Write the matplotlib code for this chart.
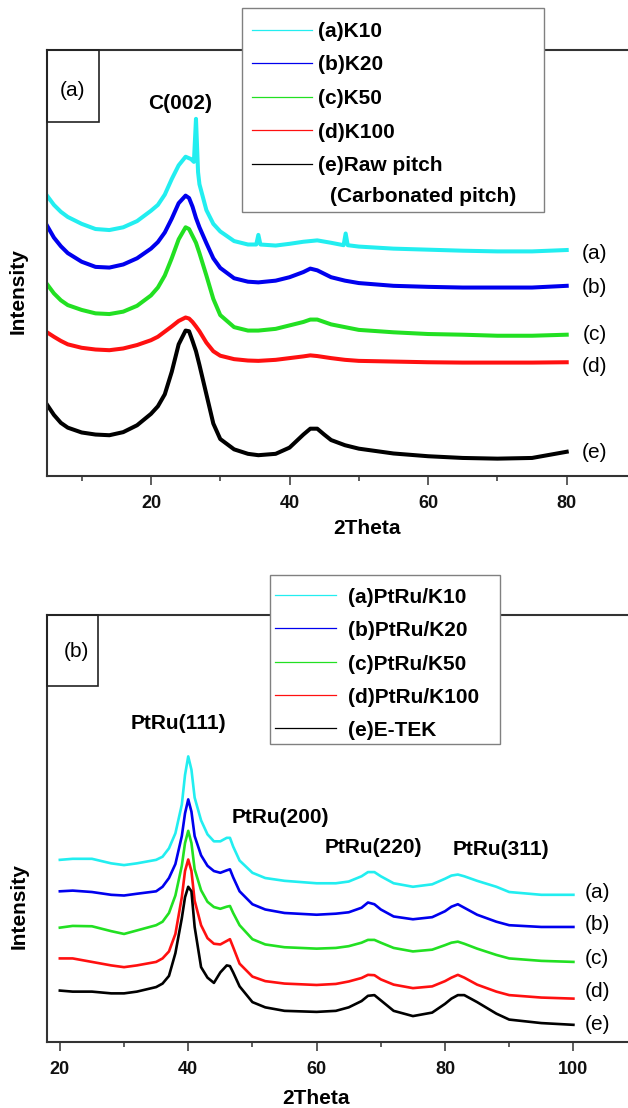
import matplotlib
matplotlib.use("Agg")
import matplotlib.pyplot as plt
from matplotlib.patches import Rectangle
from matplotlib.lines import Line2D

plt.rcParams['font.family'] = ['Liberation Sans', 'DejaVu Sans']

W, H, DPI = 628, 1108, 100

# ---------------- panel (a): carbonised pitch supports ----------------
two_theta_a = [5, 6, 7, 8, 10, 12, 14, 16, 18, 20,
               21, 22, 23, 24, 25, 25.5, 26, 26.5, 27, 28,
               29, 30, 32, 34, 35.5, 38, 40, 42, 43, 44,
               45, 46, 48, 50, 55, 60, 65, 70, 75, 80]
two_theta_k10 = [5, 6, 7, 8, 10, 12, 14, 16, 18, 20,
                 21, 22, 23, 24, 25, 25.8, 26.2, 26.5, 26.8, 27,
                 28, 29, 30, 32, 34, 35.2, 35.5, 35.8, 38, 40,
                 42, 44, 46, 47.8, 48.1, 48.4, 50, 55, 60, 65,
                 70, 75, 80]
k10 = [815, 788, 768, 753, 733, 718, 715, 723, 741, 771,
       788, 818, 863, 903, 928, 921, 913, 1038, 883, 848,
       773, 733, 711, 683, 673, 673, 701, 673, 670, 675,
       681, 685, 678, 671, 705, 671, 667, 661, 658, 655,
       653, 653, 657]
k20 = [728, 693, 668, 648, 623, 608, 606, 615, 633, 661,
       680, 708, 748, 793, 815, 808, 783, 750, 723, 677,
       633, 605, 575, 565, 563, 568, 578, 593, 603, 598,
       588, 578, 568, 561, 553, 550, 548, 548, 548, 553]
k50 = [558, 531, 511, 497, 483, 473, 471, 478, 495, 525,
       548, 583, 633, 688, 723, 718, 698, 678, 648, 583,
       515, 468, 433, 423, 423, 428, 438, 448, 455, 455,
       448, 441, 433, 425, 418, 413, 411, 408, 408, 411]
k100 = [418, 405, 393, 383, 373, 368, 366, 371, 381, 395,
        405, 420, 435, 451, 461, 458, 448, 435, 421, 388,
        363, 350, 340, 336, 335, 338, 343, 348, 351, 349,
        346, 343, 338, 335, 333, 331, 330, 330, 330, 331]
raw_pitch = [208, 178, 155, 141, 127, 121, 119, 128, 148, 181,
             203, 238, 303, 383, 423, 421, 393, 363, 323, 238,
             153, 108, 78, 65, 61, 65, 83, 121, 138, 138,
             121, 105, 90, 80, 66, 58, 53, 51, 53, 71]
labels_a = ["(a)K10", "(b)K20", "(c)K50", "(d)K100", "(e)Raw pitch"]
tags_y_a = [648, 548, 413, 318, 68]

# ---------------- panel (b): PtRu catalysts ----------------
two_theta_b = [20, 22, 25, 28, 30, 32, 35, 36, 37, 38,
               39, 39.5, 40, 40.5, 41, 42, 43, 44, 45, 46,
               46.5, 47, 48, 50, 52, 55, 60, 63, 65, 67,
               68, 69, 70, 72, 75, 78, 80, 81, 82, 83,
               85, 88, 90, 95, 100]
ptru_k10 = [522, 525, 525, 512, 507, 512, 522, 531, 555, 598,
            680, 765, 818, 780, 700, 635, 595, 575, 575, 585,
            585, 560, 520, 485, 470, 462, 455, 455, 460, 475,
            487, 487, 475, 455, 445, 452, 468, 477, 480, 475,
            462, 445, 430, 422, 422]
ptru_k20 = [432, 434, 430, 422, 420, 425, 432, 445, 470, 510,
            590, 655, 695, 660, 590, 535, 505, 490, 485, 492,
            495, 472, 432, 395, 380, 370, 365, 368, 372, 385,
            400, 395, 380, 360, 352, 358, 375, 388, 395, 385,
            365, 345, 335, 330, 330]
ptru_k50 = [328, 333, 332, 318, 310, 320, 335, 345, 370, 420,
            505, 570, 605, 570, 495, 435, 402, 387, 382, 388,
            390, 370, 335, 295, 280, 272, 268, 270, 275, 285,
            293, 293, 285, 270, 260, 265, 278, 285, 288, 282,
            268, 250, 240, 233, 230]
ptru_k100 = [240, 240, 230, 220, 215, 220, 230, 240, 260, 310,
             415, 490, 523, 490, 405, 335, 298, 282, 280, 290,
             295, 272, 225, 188, 175, 168, 164, 167, 174, 184,
             193, 192, 180, 165, 155, 160, 175, 185, 193, 185,
             165, 145, 135, 128, 125]
etek = [148, 145, 145, 140, 140, 145, 158, 168, 190, 255,
        355, 415, 445, 432, 330, 215, 185, 170, 200, 220,
        218, 200, 160, 115, 100, 90, 87, 90, 100, 118,
        133, 135, 120, 90, 75, 85, 110, 125, 135, 135,
        115, 82, 65, 55, 50]
labels_b = ["(a)PtRu/K10", "(b)PtRu/K20", "(c)PtRu/K50", "(d)PtRu/K100", "(e)E-TEK"]
tags_y_b = [430, 336, 241, 144, 50]

tags = ["(a)", "(b)", "(c)", "(d)", "(e)"]
colors = ["#22eef0", "#0000ee", "#22e022", "#ff1010", "#000000"]

SPINE = "#333333"
fig = plt.figure(figsize=(W / DPI, H / DPI), dpi=DPI)


def px_axes(left, top, right, bottom):
    return fig.add_axes([left / W, 1 - bottom / H, (right - left) / W, (bottom - top) / H])


def style(ax, xlim, ylim, major, minor):
    ax.set_xlim(*xlim)
    ax.set_ylim(*ylim)
    ax.set_xticks(major, [str(v) for v in major], fontweight='bold', fontsize=13)
    ax.set_xticks(minor, minor=True)
    ax.set_yticks([])
    ax.tick_params(axis='x', which='major', direction='out', length=6.5, width=1.1,
                   pad=7, color=SPINE, labelcolor='#111111')
    ax.tick_params(axis='x', which='minor', direction='out', length=3.6, width=1.1, color=SPINE)
    for s in ax.spines.values():
        s.set_linewidth(1.5)
        s.set_color(SPINE)


def panel_box(ax, text, w, h, tx, ty):
    ax.add_patch(Rectangle((0, 1 - h), w, h, transform=ax.transAxes, fill=False,
                           ec='#222222', lw=1.2, clip_on=False, zorder=5))
    ax.text(tx, ty, text, transform=ax.transAxes, ha='center', va='center', fontsize=15)


# ---- top panel ----
axa = px_axes(47, 50, 636, 476.2)
style(axa, (5, 90), (0, 1238), [20, 40, 60, 80], [10, 30, 50, 70, 90])
series_a = [(two_theta_k10, k10), (two_theta_a, k20), (two_theta_a, k50),
            (two_theta_a, k100), (two_theta_a, raw_pitch)]
for (x, y), c in zip(series_a, colors):
    axa.plot(x, y, color=c, lw=2.9, solid_joinstyle='round')
for t, ty in zip(tags, tags_y_a):
    axa.text(84, ty, t, ha='center', va='center', fontsize=15)
axa.text(24.2, 1084, "C(002)", ha='center', va='center', fontsize=15, fontweight='bold')
axa.set_xlabel("2Theta", fontsize=15, fontweight='bold', va='top')
axa.xaxis.set_label_coords(0.5426, -0.101)
axa.set_ylabel("Intensity", fontsize=15, fontweight='bold', va='center')
axa.yaxis.set_label_coords(-0.0482, 0.435)
panel_box(axa, "(a)", 52 / 589, 72 / 426.2, 0.0441, 0.905)

# ---- bottom panel ----
axb = px_axes(47, 615.2, 637.6, 1042.3)
style(axb, (18, 110), (0, 1222), [20, 40, 60, 80, 100], [30, 50, 70, 90, 110])
series_b = [ptru_k10, ptru_k20, ptru_k50, ptru_k100, etek]
for y, c in zip(series_b, colors):
    axb.plot(two_theta_b, y, color=c, lw=1.9, solid_joinstyle='round')
for t, ty in zip(tags, tags_y_b):
    axb.text(103.7, ty, t, ha='center', va='center', fontsize=15)
peaks_b = [("PtRu(111)", 38.4, 911), ("PtRu(200)", 54.3, 642),
           ("PtRu(220)", 68.9, 556), ("PtRu(311)", 88.7, 552)]
for txt, px, py in peaks_b:
    axb.text(px, py, txt, ha='center', va='center', fontsize=15, fontweight='bold')
axb.set_xlabel("2Theta", fontsize=15, fontweight='bold', va='top')
axb.xaxis.set_label_coords(0.455, -0.109)
axb.set_ylabel("Intensity", fontsize=15, fontweight='bold', va='center')
axb.yaxis.set_label_coords(-0.0474, 0.319)
panel_box(axb, "(b)", 51 / 590.6, 71 / 427.1, 29 / 590.6, 0.915)

# ---- legends, drawn in figure pixel space so they can overhang the frames ----
ov = fig.add_axes([0, 0, 1, 1], zorder=10)
ov.set_xlim(0, W)
ov.set_ylim(H, 0)
ov.axis('off')


def legend_box(x0, y0, w, h, line_x, line_ys, text_x, text_ys, labels):
    ov.add_patch(Rectangle((x0, y0), w, h, fc='white', ec='#808080', lw=1.0))
    for c, ly, ty, lab in zip(colors, line_ys, text_ys, labels):
        ov.add_line(Line2D(line_x, [ly, ly], color=c, lw=0.9))
        ov.text(text_x, ty, lab, ha='left', va='center', fontsize=15, fontweight='bold')


legend_box(242, 8, 302, 204, [252, 312], [29.5, 63, 96.5, 130, 163.5],
           318, [31.5, 65, 98.5, 132, 165.5], labels_a)
ov.text(330, 196, "(Carbonated pitch)", ha='left', va='center', fontsize=15, fontweight='bold')
legend_box(270, 574.5, 230, 169.5, [275, 336], [595, 628.3, 661.5, 695, 728.3],
           348, [597.5, 631, 664.3, 697.7, 730.5], labels_b)

fig.savefig("out.png", dpi=DPI)
